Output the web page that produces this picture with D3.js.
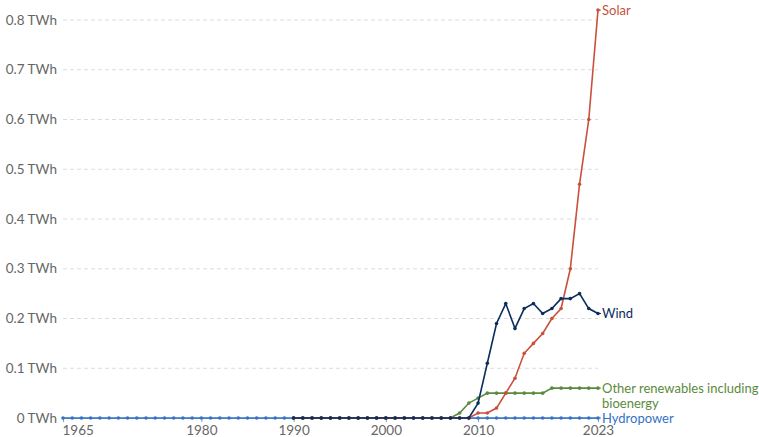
<!DOCTYPE html>
<html>
<head>
<meta charset="utf-8">
<script src="https://cdn.jsdelivr.net/npm/d3@7"></script>
<style>
    body { margin: 0; background: white; }
    text { font-family: Lato, "Open Sans", sans-serif; }
</style>
</head>
<body>
<div id="chartDiv"></div>
<script>

// years and values
let years = d3.range(1965, 2024);
let windYears = d3.range(1990, 2024);

let hydroValues = years.map(() => 0);

let windValues = [0, 0, 0, 0, 0, 0, 0, 0, 0, 0,
                  0, 0, 0, 0, 0, 0, 0, 0, 0, 0,
                  0.03, 0.11, 0.19, 0.23, 0.18, 0.22, 0.23, 0.21, 0.22, 0.24,
                  0.24, 0.25, 0.22, 0.21];

let solarValues = [0, 0, 0, 0, 0, 0, 0, 0, 0, 0,
                   0, 0, 0, 0, 0, 0, 0, 0, 0, 0,
                   0.01, 0.01, 0.02, 0.05, 0.08, 0.13, 0.15, 0.17, 0.2, 0.22,
                   0.3, 0.47, 0.6, 0.82];

let otherValues = [0, 0, 0, 0, 0, 0, 0, 0, 0, 0,
                   0, 0, 0, 0, 0, 0, 0, 0, 0.01, 0.03,
                   0.04, 0.05, 0.05, 0.05, 0.05, 0.05, 0.05, 0.05, 0.06, 0.06,
                   0.06, 0.06, 0.06, 0.06];

let yTicks = [0, 0.1, 0.2, 0.3, 0.4, 0.5, 0.6, 0.7, 0.8];
let xTicks = [1965, 1980, 1990, 2000, 2010, 2023];

let series = [
    { name: "Hydropower", years: years, values: hydroValues, color: "#3372c8", labelY: 0 },
    { name: "Other renewables including bioenergy", years: windYears, values: otherValues, color: "#5b8a3c", labelY: 0.06 },
    { name: "Solar", years: windYears, values: solarValues, color: "#c9503c", labelY: 0.82 },
    { name: "Wind", years: windYears, values: windValues, color: "#0b2d5e", labelY: 0.21 }
];

let width = 759, height = 437;

let svg = d3.select("#chartDiv").append("svg")
            .attr("width", width)
            .attr("height", height);

let x = d3.scaleLinear().domain([1965, 2023]).range([63, 598]);
let y = d3.scaleLinear().domain([0, 0.8]).range([418, 20]);

// horizontal grid
svg.append("g")
   .selectAll("line")
   .data(yTicks.filter(d => d > 0))
   .join("line")
   .attr("x1", 63)
   .attr("x2", 598)
   .attr("y1", d => y(d))
   .attr("y2", d => y(d))
   .attr("stroke", "#dcdcdc")
   .attr("stroke-dasharray", "4,3")
   .attr("stroke-width", 1);

// y labels
svg.append("g")
   .selectAll("text")
   .data(yTicks)
   .join("text")
   .attr("x", 57)
   .attr("y", d => y(d))
   .attr("dy", "0.35em")
   .attr("text-anchor", "end")
   .attr("fill", "#666")
   .style("font-size", "13.5px")
   .text(d => d === 0 ? "0 TWh" : d3.format(".1f")(d) + " TWh");

// x axis
let xAxis = d3.axisBottom(x)
              .tickValues(xTicks)
              .tickFormat(d3.format("d"))
              .tickSize(4)
              .tickPadding(3);

let xAxisG = svg.append("g")
                .attr("transform", "translate(0,418)")
                .call(xAxis);
xAxisG.select(".domain").attr("stroke", "#999");
xAxisG.selectAll(".tick line").attr("stroke", "#999");
xAxisG.selectAll(".tick text")
      .attr("fill", "#666")
      .style("font-size", "13.5px")
      .style("font-family", "Lato, sans-serif")
      .attr("text-anchor", d => d === 1965 ? "start" : "middle")
      .attr("dx", d => d === 1965 ? "-1" : "0");

let line = d3.line()
             .x(d => x(d[0]))
             .y(d => y(d[1]));

for (let s of series) {
    let pts = s.years.map((yr, i) => [yr, s.values[i]]);
    let g = svg.append("g");

    g.append("path")
     .datum(pts)
     .attr("d", line)
     .attr("fill", "none")
     .attr("stroke", s.color)
     .attr("stroke-width", 1.6);

    g.selectAll("circle")
     .data(pts)
     .join("circle")
     .attr("cx", d => x(d[0]))
     .attr("cy", d => y(d[1]))
     .attr("r", 1.8)
     .attr("fill", s.color);
}

// end labels
let labelX = 602;
for (let s of series) {
    let ly = y(s.labelY);
    svg.append("line")
       .attr("x1", 598)
       .attr("x2", labelX - 1)
       .attr("y1", ly)
       .attr("y2", ly)
       .attr("stroke", s.color)
       .attr("stroke-width", 1);

    let txt = svg.append("text")
                 .attr("x", labelX)
                 .attr("y", ly)
                 .attr("fill", s.color)
                 .style("font-size", "13px");

    if (s.name.startsWith("Other")) {
        txt.append("tspan").attr("x", labelX).attr("dy", "0.35em").text("Other renewables including");
        txt.append("tspan").attr("x", labelX).attr("dy", "15").text("bioenergy");
    } else {
        txt.attr("dy", "0.35em").text(s.name);
    }
}

</script>
</body>
</html>
